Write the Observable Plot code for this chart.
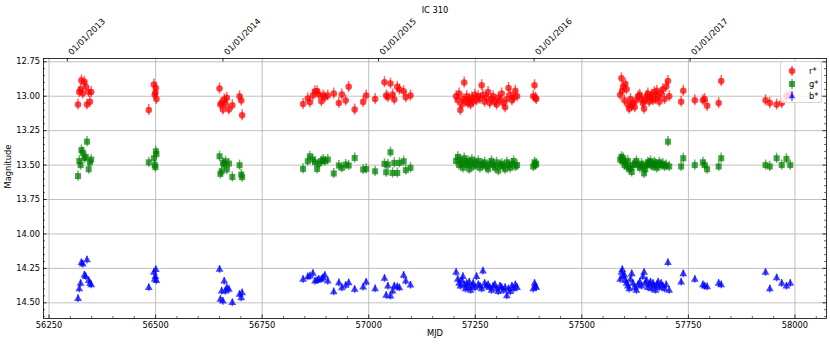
<!DOCTYPE html>
<html><head><meta charset="utf-8">
<script src="https://cdn.jsdelivr.net/npm/d3@7"></script>
<script src="https://cdn.jsdelivr.net/npm/@observablehq/plot@0.6"></script>
<style>
body{margin:0;background:#fff;font-family:"DejaVu Sans",sans-serif;}
#wrap{position:relative;width:830px;height:344px;}
#legend{position:absolute;left:780px;top:61px;width:42px;height:42px;box-sizing:border-box;border:1px solid rgba(204,204,204,0.8);border-radius:3px;background:rgba(255,255,255,0.8);font-size:8.3px;color:#000;}
#legend .row{position:absolute;left:0;width:42px;height:12px;}
#legend svg{position:absolute;left:4px;top:0;}
#legend span{position:absolute;left:28px;top:0;line-height:12px;}
</style></head>
<body>
<div id="wrap"><div id="chart"></div>
<div id="legend"></div></div>
<script>
// ---- data ----
const mjd = [
  56318,56321,56324,56326,56329,56333,56336,56339,56343,56346,56349,
  56484,56496,56498,56499.5,56500.6,56502,
  56650,56652,56655,56658,56661,56664,56667,56672,56680,56697,56701,56703,
  56846,56857,56862,56869,56874,56879,56883,56889,56893,56897,56904,56918,56930,56937,56946,56953,56967,56987,56994,57015,57037,57041,57045,57051,57056,57060,57067,57072,57082,57087,57098,
  57205,57209,57212,57215,57218,57221,57224,57227,57230,57233,57236,57239,57242,57245,57249,57253,57257,57261,57265,57268,57272,57276,57280,57284,57288,57292,57296,57300,57304,57308,57312,57316,57320,57324,57328,57332,57336,57340,57344,57348,57386,57389,57391,57393,
  57590,57593,57595,57597,57600,57602,57605,57608,57611,57614,57617,57620,57624,57628,57632,57636,57640,57643,57646,57649,57652,57655,57658,57661,57664,57667,57670,57673,57676,57679,57682,57686,57690,57694,57698,57702,57705,
  57733,57738,57765,57784,57788,57794,57821,57827,57931,57941,57957,57969,57980,57989
];
const rMag = [
  13.06,12.97,12.95,12.885,12.98,12.895,12.93,13.06,12.97,13.04,12.97,
  13.10,12.915,12.99,12.975,12.94,13.02,
  12.944,13.06,13.049,13.097,13.024,13.056,13.012,13.097,13.065,13.0,13.031,13.138,
  13.056,13.017,13.044,12.995,12.964,12.964,12.988,13.036,12.995,13.007,12.995,12.98,13.049,12.988,13.031,12.932,13.097,13.041,12.995,13.02,12.898,12.995,13.005,12.908,12.988,13.024,12.932,12.951,12.964,13.007,12.995,
  13.00,13.03,12.98,13.10,13.06,13.02,12.90,13.04,13.00,13.05,13.02,13.06,13.01,13.04,12.99,13.03,13.00,13.02,12.92,12.99,13.04,13.01,12.97,13.05,13.02,13.00,13.04,13.06,13.01,13.03,12.98,13.05,13.08,13.02,12.94,12.99,13.03,13.01,12.96,13.00,13.00,12.92,13.01,13.02,
  12.99,12.87,12.96,12.93,13.03,12.91,12.95,13.06,13.09,13.02,13.07,13.05,13.08,13.03,13.00,12.99,13.02,13.05,13.09,13.03,13.00,12.98,13.04,13.01,12.99,13.03,12.97,13.02,12.96,13.00,13.04,12.98,12.95,13.02,12.93,12.89,13.00,
  13.04,12.96,13.03,13.03,13.02,13.07,13.05,12.89,13.03,13.05,13.06,13.05,13.00,12.99
];
const gMag = [
  13.58,13.47,13.50,13.39,13.41,13.45,13.44,13.33,13.53,13.48,13.46,
  13.48,13.45,13.50,13.515,13.40,13.42,
  13.436,13.564,13.545,13.484,13.496,13.472,13.532,13.489,13.586,13.501,13.569,13.588,
  13.528,13.472,13.436,13.46,13.479,13.528,13.489,13.472,13.46,13.472,13.46,13.561,13.503,13.52,13.496,13.503,13.448,13.532,13.528,13.545,13.491,13.552,13.496,13.407,13.557,13.484,13.557,13.484,13.472,13.537,13.52,
  13.47,13.44,13.50,13.46,13.49,13.52,13.45,13.48,13.50,13.47,13.53,13.49,13.46,13.51,13.48,13.50,13.47,13.52,13.49,13.50,13.48,13.51,13.53,13.49,13.47,13.50,13.52,13.48,13.54,13.50,13.49,13.51,13.53,13.48,13.50,13.52,13.49,13.47,13.51,13.50,13.51,13.48,13.50,13.49,
  13.46,13.44,13.47,13.45,13.50,13.48,13.51,13.47,13.53,13.52,13.55,13.50,13.49,13.47,13.50,13.52,13.49,13.51,13.56,13.53,13.50,13.48,13.49,13.47,13.50,13.51,13.48,13.49,13.52,13.50,13.48,13.50,13.49,13.51,13.50,13.33,13.51,
  13.51,13.45,13.50,13.48,13.50,13.53,13.51,13.45,13.50,13.51,13.45,13.50,13.455,13.50
];
const bMag = [
  14.47,14.40,14.36,14.21,14.22,14.30,14.31,14.19,14.34,14.36,14.37,
  14.39,14.28,14.33,14.31,14.26,14.34,
  14.258,14.476,14.416,14.489,14.344,14.416,14.392,14.404,14.50,14.44,14.465,14.428,
  14.331,14.312,14.307,14.288,14.344,14.338,14.331,14.33,14.319,14.302,14.344,14.421,14.356,14.392,14.375,14.356,14.404,14.387,14.351,14.399,14.324,14.447,14.38,14.452,14.416,14.38,14.385,14.392,14.302,14.344,14.373,
  14.28,14.33,14.36,14.38,14.34,14.31,14.37,14.40,14.36,14.39,14.35,14.41,14.38,14.36,14.39,14.31,14.37,14.38,14.40,14.27,14.36,14.38,14.37,14.39,14.41,14.38,14.37,14.40,14.42,14.38,14.39,14.41,14.39,14.45,14.40,14.42,14.38,14.40,14.37,14.39,14.40,14.36,14.38,14.39,
  14.33,14.28,14.26,14.31,14.30,14.34,14.36,14.38,14.40,14.33,14.29,14.36,14.39,14.41,14.37,14.35,14.38,14.31,14.28,14.36,14.34,14.39,14.37,14.35,14.40,14.36,14.38,14.41,14.37,14.35,14.39,14.36,14.38,14.40,14.37,14.21,14.41,
  14.35,14.29,14.33,14.37,14.38,14.385,14.36,14.37,14.28,14.40,14.32,14.36,14.38,14.36
];
const rErr = 0.04, gErr = 0.037, bErr = 0.028;

const xTicks = [56250,56500,56750,57000,57250,57500,57750,58000];
const xTickLabels = ["56250","56500","56750","57000","57250","57500","57750","58000"];
const yTicks = [12.75,13.0,13.25,13.5,13.75,14.0,14.25,14.5];
const yTickLabels = ["12.75","13.00","13.25","13.50","13.75","14.00","14.25","14.50"];
const dateMJD = [56293,56658,57023,57388,57754];
const dateLabels = ["01/01/2013","01/01/2014","01/01/2015","01/01/2016","01/01/2017"];
const seriesNames = ["r*","g*","b*"];
const seriesColors = ["red","green","blue"];

// ---- layout ----
const W = 830, H = 344, mT = 58, mB = 26, mL = 43, mR = 4;
const innerW = W - mL - mR, innerH = H - mT - mB;
const xMinor = d3.range(56250, 58074, 50).filter(v => v % 250 !== 0);
const yMinor = d3.range(12.75, 14.62, 0.05).map(v => +v.toFixed(2)).filter(v => Math.abs(v*4 - Math.round(v*4)) > 1e-6);

const rows = mjd.map((m, i) => ({mjd: m, r: rMag[i], g: gMag[i], b: bMag[i]}));
const fs = 8.3;

const bandMarks = (key, err, color, symbol, r) => [
  Plot.ruleX(rows, {x: "mjd", y1: d => d[key] - err, y2: d => d[key] + err, stroke: color, strokeOpacity: 0.6, strokeWidth: 1.5}),
  Plot.dot(rows, {x: "mjd", y: key, r, symbol, fill: color, fillOpacity: 0.72, stroke: "none"})
];

const chart = Plot.plot({
  width: W, height: H,
  marginTop: mT, marginBottom: mB, marginLeft: mL, marginRight: mR,
  style: {fontFamily: "DejaVu Sans", fontSize: fs + "px", background: "#fff", color: "#000"},
  x: {domain: [56237, 58074], axis: null},
  y: {domain: [12.726, 14.614], reverse: true, axis: null},
  marks: [
    Plot.ruleX(xTicks, {x: d => d, stroke: "#b0b0b0", strokeWidth: 0.8}),
    Plot.ruleY(yTicks, {y: d => d, stroke: "#b0b0b0", strokeWidth: 0.8}),
    ...bandMarks("r", rErr, seriesColors[0], "circle", 3.3),
    ...bandMarks("g", gErr, seriesColors[1], "square", 3.4),
    ...bandMarks("b", bErr, seriesColors[2], "triangle", 2.9),
    Plot.frame({stroke: "#000", strokeWidth: 0.8}),
    // ticks (inward)
    Plot.ruleX(xTicks, {x: d => d, insetTop: innerH - 3.5, stroke: "#000", strokeWidth: 0.8}),
    Plot.ruleX(xMinor, {x: d => d, insetTop: innerH - 2, stroke: "#000", strokeWidth: 0.6}),
    Plot.ruleX(dateMJD, {x: d => d, insetBottom: innerH - 3.5, stroke: "#000", strokeWidth: 0.8}),
    Plot.ruleY(yTicks, {y: d => d, insetRight: innerW - 3.5, stroke: "#000", strokeWidth: 0.8}),
    Plot.ruleY(yTicks, {y: d => d, insetLeft: innerW - 3.5, stroke: "#000", strokeWidth: 0.8}),
    Plot.ruleY(yMinor, {y: d => d, insetRight: innerW - 2, stroke: "#000", strokeWidth: 0.6}),
    Plot.ruleY(yMinor, {y: d => d, insetLeft: innerW - 2, stroke: "#000", strokeWidth: 0.6}),
    // tick labels
    Plot.text(xTicks, {x: d => d, text: (d, i) => xTickLabels[i], frameAnchor: "bottom", lineAnchor: "top", dy: 3.5, fontSize: fs}),
    Plot.text(yTicks, {y: d => d, text: (d, i) => yTickLabels[i], frameAnchor: "left", textAnchor: "end", dx: -3.5, fontSize: fs}),
    Plot.text(dateMJD, {x: d => d, text: (d, i) => dateLabels[i], frameAnchor: "top", textAnchor: "start", lineAnchor: "bottom", rotate: -45, dx: 4.5, dy: -3, fontSize: fs}),
    // titles
    Plot.text(["IC 310"], {text: d => d, frameAnchor: "top", dy: -51, fontSize: fs}),
    Plot.text(["MJD"], {text: d => d, frameAnchor: "bottom", dy: 17, fontSize: fs}),
    Plot.text(["Magnitude"], {text: d => d, frameAnchor: "left", rotate: -90, dx: -35, fontSize: fs})
  ]
});
document.getElementById("chart").appendChild(chart);

// ---- legend ----
const legend = document.getElementById("legend");
const shapes = [
  c => `<circle cx="7" cy="6" r="3.3" fill="${c}" fill-opacity="0.72"/>`,
  c => `<rect x="4" y="3" width="6" height="6" fill="${c}" fill-opacity="0.72"/>`,
  c => `<path d="M7,2.5 L10.3,8.3 L3.7,8.3 Z" fill="${c}" fill-opacity="0.72"/>`
];
seriesNames.forEach((name, i) => {
  const c = seriesColors[i];
  const row = document.createElement("div");
  row.className = "row";
  row.style.top = (3 + i * 12.5) + "px";
  row.innerHTML = `<svg width="14" height="12"><line x1="7" x2="7" y1="1" y2="11" stroke="${c}" stroke-opacity="0.6" stroke-width="1.5"/>${shapes[i](c)}</svg><span>${name}</span>`;
  legend.appendChild(row);
});
</script>
</body></html>
